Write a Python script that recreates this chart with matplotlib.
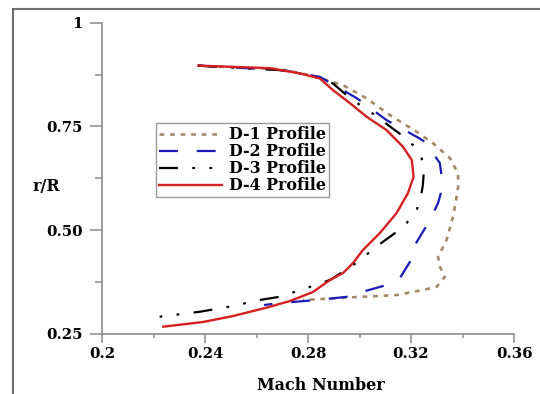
import numpy as np
import matplotlib.pyplot as plt
from matplotlib.patches import Rectangle

# profile data (Mach number, r/R)
d1_mach = [0.2373, 0.2691, 0.2808, 0.2936, 0.3028, 0.3118, 0.3222, 0.3285, 0.3351, 0.3382,
           0.3384, 0.3375, 0.3363, 0.3338, 0.3305, 0.3312, 0.3332, 0.3300, 0.3246, 0.3144,
           0.3013, 0.2924, 0.2781]
d1_r = [0.8966, 0.8881, 0.8737, 0.8496, 0.8176, 0.7774, 0.7372, 0.7099, 0.6738, 0.6377,
        0.6088, 0.5727, 0.5325, 0.4764, 0.4361, 0.4120, 0.3880, 0.3639, 0.3560, 0.3439,
        0.3398, 0.3367, 0.3319]

d2_mach = [0.2373, 0.2703, 0.2846, 0.2989, 0.3105, 0.3222, 0.3254, 0.3312, 0.3319, 0.3319,
           0.3305, 0.3274, 0.3246, 0.3208, 0.3196, 0.3157, 0.3105, 0.3013, 0.2955, 0.2834,
           0.2691, 0.2629]
d2_r = [0.8966, 0.8857, 0.8696, 0.8183, 0.7653, 0.7251, 0.7131, 0.6618, 0.6288, 0.5968,
        0.5655, 0.5245, 0.4963, 0.4571, 0.4241, 0.3848, 0.3680, 0.3519, 0.3398, 0.3319,
        0.3246, 0.3198]

d3_mach = [0.2373, 0.2691, 0.2808, 0.2897, 0.2963, 0.3060, 0.3111, 0.3164, 0.3208, 0.3241,
           0.3250, 0.3246, 0.3238, 0.3222, 0.3183, 0.3138, 0.3086, 0.3041, 0.2994, 0.2936,
           0.2885, 0.2795, 0.2691, 0.2601, 0.2509, 0.2381, 0.2206]
d3_r = [0.8966, 0.8857, 0.8737, 0.8537, 0.8183, 0.7774, 0.7533, 0.7290, 0.7051, 0.6738,
        0.6449, 0.6088, 0.5799, 0.5486, 0.5173, 0.4932, 0.4699, 0.4482, 0.4241, 0.4000,
        0.3800, 0.3608, 0.3398, 0.3307, 0.3174, 0.3037, 0.2902]

d4_mach = [0.2374, 0.2652, 0.2769, 0.2846, 0.2897, 0.2963, 0.3028, 0.3105, 0.3169, 0.3203,
           0.3210, 0.3188, 0.3144, 0.3079, 0.3013, 0.2975, 0.2936, 0.2885, 0.2819, 0.2730,
           0.2641, 0.2509, 0.2392, 0.2238]
d4_r = [0.8966, 0.8905, 0.8778, 0.8657, 0.8375, 0.8062, 0.7733, 0.7413, 0.7010, 0.6690,
        0.6288, 0.5895, 0.5414, 0.4932, 0.4523, 0.4210, 0.3969, 0.3800, 0.3511, 0.3295,
        0.3138, 0.2933, 0.2789, 0.2676]

labels = ["D-1 Profile", "D-2 Profile", "D-3 Profile", "D-4 Profile"]

xticks = [0.2, 0.24, 0.28, 0.32, 0.36]
xticklabels = ["0.2", "0.24", "0.28", "0.32", "0.36"]
yticks = [0.25, 0.5, 0.75, 1.0]
yticklabels = ["0.25", "0.50", "0.75", "1"]

plt.rcParams['font.family'] = ['DejaVu Serif']
plt.rcParams['font.weight'] = 'bold'

fig = plt.figure(figsize=(5.4, 3.94), dpi=100)
ax = fig.add_axes([0.1889, 0.1523, 0.763, 0.790])

gray = '#8c8c8c'

ax.plot(d1_mach, d1_r, color='#a08a68', lw=1.9, dashes=(1.8, 2.2), label=labels[0], zorder=2)
ax.plot(d2_mach, d2_r, color='#1a1ab8', lw=1.6, dashes=(8.5, 8.5), label=labels[1], zorder=3)
ax.plot(d3_mach, d3_r, color='black', lw=1.6, dashes=(8.5, 6.5, 1.2, 6.5, 1.2, 6.5), label=labels[2], zorder=4)
ax.plot(d4_mach, d4_r, color='#d42020', lw=1.7, label=labels[3], zorder=5)

ax.set_xlim(0.2, 0.36)
ax.set_ylim(0.25, 1.0)

for s in ['top', 'right']:
    ax.spines[s].set_visible(False)
for s in ['left', 'bottom']:
    ax.spines[s].set_color(gray)
    ax.spines[s].set_linewidth(1.2)

ax.set_xticks(xticks)
ax.set_xticklabels(xticklabels)
ax.set_xticks([0.22, 0.26, 0.30, 0.34], minor=True)
ax.set_yticks(yticks)
ax.set_yticklabels(yticklabels)
ax.set_yticks([0.375, 0.625, 0.875], minor=True)

ax.tick_params(axis='both', which='both', direction='out', color=gray, width=1.1, labelsize=10.7)
ax.tick_params(axis='y', which='major', length=8.6, pad=5.5)
ax.tick_params(axis='y', which='minor', length=5)
ax.tick_params(axis='x', which='major', length=6.8, pad=2.5)
ax.tick_params(axis='x', which='minor', length=3)

ax.set_xlabel("Mach Number", fontsize=11.5, fontweight='bold', va='center')
ax.xaxis.set_label_coords(0.531, -0.164)
ax.set_ylabel("r/R", fontsize=11.5, fontweight='bold', rotation=0, va='center', ha='center')
ax.yaxis.set_label_coords(-0.134, 0.475)

leg = ax.legend(loc='upper left', bbox_to_anchor=(0.131, 0.678), borderaxespad=0,
                fontsize=11.4, handlelength=4.0, handletextpad=0.4, labelspacing=0.0,
                borderpad=0.2, fancybox=False, framealpha=1, edgecolor='#9a9a9a')
leg.get_frame().set_linewidth(1.0)

# outer border of the picture
fig.add_artist(Rectangle((13 / 540, -0.5), 2.0, 0.5 + 1 - 9.3 / 394, transform=fig.transFigure,
                         fill=False, edgecolor='#6e6e6e', lw=1.5, clip_on=False))

fig.savefig("out.png", dpi=100)
